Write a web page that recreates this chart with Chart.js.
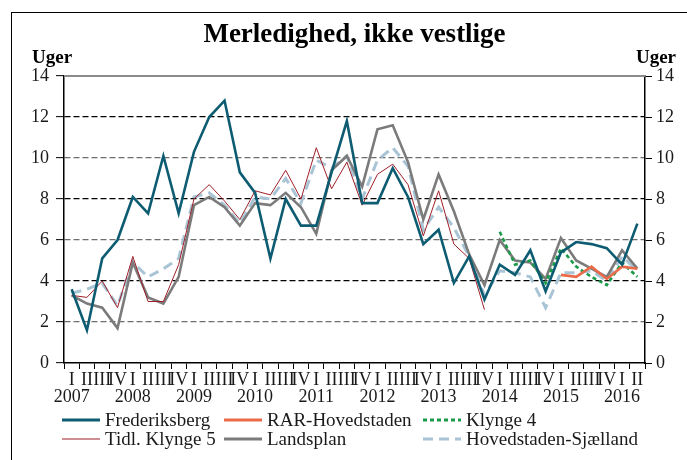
<!DOCTYPE html>
<html>
<head>
<meta charset="utf-8">
<script src="https://cdn.jsdelivr.net/npm/chart.js@4.4.1/dist/chart.umd.min.js"></script>
<style>
  body { margin: 0; background: #fff; }
  #wrap { position: relative; width: 687px; height: 460px; overflow: hidden; }
  #frame { position: absolute; left: 11px; top: 12px; width: 700px; height: 460px; border-left: 1.5px solid #000; border-top: 1.5px solid #000; }
  #legend { position: absolute; left: 0; top: 0; font-family: "Liberation Serif", serif; font-size: 19px; color: #1a1a1a; }
  .item { position: absolute; display: flex; align-items: center; white-space: nowrap; }
  .item svg { margin-right: 5px; }
</style>
</head>
<body>
<div id="wrap">
  <div id="frame"></div>
  <canvas id="chart" width="687" height="460"></canvas>
  <div id="legend"></div>
</div>
<script>
const title = 'Merledighed, ikke vestlige';
const unit = 'Uger';
const years = ['2007', '2008', '2009', '2010', '2011', '2012', '2013', '2014', '2015', '2016'];
const quarters = ['I', 'II', 'III', 'IV'];

// kvartaler 2007 K1 - 2016 K2
const frederiksberg = [3.6, 1.6, 5.1, 6.0, 8.1, 7.3, 10.1, 7.3, 10.3, 12.0, 12.8, 9.3, 8.3, 5.1, 8.0, 6.7, 6.7, 9.3, 11.8, 7.8, 7.8, 9.5, 8.1, 5.8, 6.5, 3.9, 5.2, 3.1, 4.8, 4.3, 5.5, 3.5, 5.4, 5.9, 5.8, 5.6, 4.8, 6.8];
const rarHovedstaden = [null, null, null, null, null, null, null, null, null, null, null, null, null, null, null, null, null, null, null, null, null, null, null, null, null, null, null, null, null, null, null, null, 4.3, 4.2, 4.7, 4.1, 4.7, 4.6];
const klynge4 = [null, null, null, null, null, null, null, null, null, null, null, null, null, null, null, null, null, null, null, null, null, null, null, null, null, null, null, null, 6.4, 4.8, 5.0, 3.9, 5.6, 4.7, 4.2, 3.8, 4.9, 4.2];
const tidlKlynge5 = [3.3, 3.2, 4.0, 2.7, 5.2, 3.0, 3.0, 4.8, 8.0, 8.7, 7.9, 7.0, 8.4, 8.2, 9.4, 8.0, 10.5, 8.5, 9.8, 7.7, 9.2, 9.7, 8.7, 6.2, 8.4, 5.8, 5.1, 2.6];
const landsplan = [3.3, 2.9, 2.7, 1.7, 4.9, 3.2, 2.9, 4.2, 7.7, 8.1, 7.6, 6.7, 7.8, 7.7, 8.3, 7.6, 6.3, 9.4, 10.1, 8.6, 11.4, 11.6, 9.8, 7.0, 9.2, 7.4, 5.3, 3.8, 6.0, 5.0, 4.9, 4.1, 6.1, 5.0, 4.6, 4.2, 5.5, 4.6];
const hovedstadenSjaelland = [3.4, 3.6, 3.9, 2.8, 4.9, 4.2, 4.6, 5.1, 8.1, 8.3, 7.7, 6.8, 8.1, 8.0, 9.0, 7.8, 9.9, 9.5, 10.1, 8.0, 9.9, 10.5, 9.6, 6.5, 7.6, 6.6, 5.2, 3.3, 4.5, 4.4, 4.2, 2.7, 4.4, 4.4, 4.5, 4.0, 5.2, 4.5];

const labels = [];
years.forEach(y => {
  quarters.forEach((q, i) => {
    if (labels.length < frederiksberg.length) labels.push(i === 0 ? [q, y] : q);
  });
});

const series = [
  { label: 'Frederiksberg', data: frederiksberg, color: '#0d5c72', width: 2.6, dash: [] },
  { label: 'RAR-Hovedstaden', data: rarHovedstaden, color: '#eb6a47', width: 2.6, dash: [] },
  { label: 'Klynge 4', data: klynge4, color: '#1c9a48', width: 2.6, dash: [4, 3] },
  { label: 'Tidl. Klynge 5', data: tidlKlynge5, color: '#9e1f28', width: 1, dash: [] },
  { label: 'Landsplan', data: landsplan, color: '#7b7b7b', width: 2.6, dash: [] },
  { label: 'Hovedstaden-Sjælland', data: hovedstadenSjaelland, color: '#a9c4d5', width: 3, dash: [10, 6] }
];

const serif = '"Liberation Serif", serif';

const extras = {
  id: 'extras',
  afterDraw(chart) {
    const { ctx, chartArea } = chart;
    ctx.save();
    ctx.strokeStyle = '#8c8c8c';
    ctx.lineWidth = 2;
    ctx.beginPath();
    ctx.moveTo(chartArea.left, chartArea.top);
    ctx.lineTo(chartArea.right, chartArea.top);
    ctx.stroke();
    ctx.fillStyle = '#000';
    ctx.textBaseline = 'middle';
    ctx.textAlign = 'center';
    ctx.font = 'bold 27px ' + serif;
    ctx.fillText(title, (chartArea.left + chartArea.right) / 2, 35);
    ctx.font = 'bold 19px ' + serif;
    ctx.textAlign = 'left';
    ctx.fillText(unit, 32, 58);
    ctx.textAlign = 'right';
    ctx.fillText(unit, 676, 58);
    ctx.restore();
  }
};

const gridColor = c => {
  const v = c.tick.value;
  if (v === 0 || v === 14) return 'rgba(0,0,0,0)';
  return v % 4 === 0 ? '#000' : '#6e6e6e';
};

new Chart(document.getElementById('chart'), {
  type: 'line',
  data: {
    labels: labels,
    datasets: series.map(s => ({
      label: s.label,
      data: s.data,
      borderColor: s.color,
      backgroundColor: s.color,
      borderWidth: s.width,
      borderDash: s.dash,
      pointRadius: 0,
      tension: 0,
      fill: false,
      yAxisID: 'y'
    }))
  },
  options: {
    responsive: false,
    animation: false,
    layout: { padding: { top: 76, left: 0, right: 0, bottom: 0 } },
    plugins: { legend: { display: false }, tooltip: { enabled: false } },
    scales: {
      x: {
        offset: true,
        grid: { display: true, drawOnChartArea: false, drawTicks: true, tickLength: 6, offset: true, color: '#000', lineWidth: 1 },
        border: { display: true, color: '#000', width: 1.5 },
        ticks: { autoSkip: false, maxRotation: 0, minRotation: 0, padding: 3, color: '#1a1a1a', font: { family: serif, size: 18, lineHeight: 0.95 } },
        afterFit: scale => { scale.height = 97; }
      },
      y: {
        position: 'left',
        min: 0,
        max: 14,
        ticks: { stepSize: 2, padding: 7, color: '#1a1a1a', font: { family: serif, size: 18 } },
        grid: { color: gridColor, lineWidth: 1.3, tickColor: '#000', tickLength: 8, tickBorderDash: [], tickWidth: 1 },
        border: { display: true, color: '#000', width: 1.5, dash: [6, 3] },
        afterFit: scale => { scale.width = 64; }
      },
      y2: {
        position: 'right',
        min: 0,
        max: 14,
        ticks: { stepSize: 2, padding: 4, color: '#1a1a1a', font: { family: serif, size: 18 } },
        grid: { drawOnChartArea: false, tickColor: '#000', tickLength: 7, tickWidth: 1, tickBorderDash: [] },
        border: { display: true, color: '#000', width: 1.5 },
        afterFit: scale => { scale.width = 42; }
      }
    }
  },
  plugins: [extras]
});

// legend: 2 rækker x 3 kolonner
const cols = [62, 224, 423];
const rows = [420, 439];
const legend = document.getElementById('legend');
series.forEach((s, n) => {
  const el = document.createElement('div');
  el.className = 'item';
  el.style.left = cols[n % 3] + 'px';
  el.style.top = (rows[Math.floor(n / 3)] - 11) + 'px';
  el.style.height = '22px';
  el.innerHTML = '<svg width="38" height="8"><line x1="0" y1="4" x2="38" y2="4" stroke="' + s.color +
    '" stroke-width="' + (s.width === 1 ? 1.2 : 3.2) + '" stroke-dasharray="' + s.dash.join(',') + '"/></svg><span>' + s.label + '</span>';
  legend.appendChild(el);
});
</script>
</body>
</html>
